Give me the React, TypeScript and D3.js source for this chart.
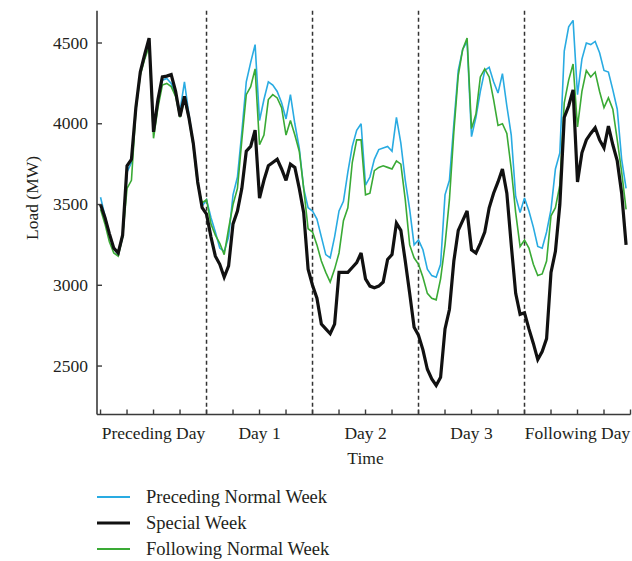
import React from "react";
import * as d3 from "d3";

const dayLabels = ["Preceding Day", "Day 1", "Day 2", "Day 3", "Following Day"];
const yTicks = [2500, 3000, 3500, 4000, 4500];
const seriesNames = ["Preceding Normal Week", "Special Week", "Following Normal Week"];

// hourly load (MW), 24 values per day, 5 days
const precedingWeek = [
  3545, 3430, 3320, 3230, 3190, 3300, 3700, 3760, 4100, 4320, 4410, 4500, 3960, 4150, 4270, 4280, 4250, 4180, 4080, 4260, 4060, 3880, 3640, 3490,
  3530, 3420, 3330, 3230, 3210, 3300, 3560, 3670, 3950, 4260, 4380, 4490, 4020, 4150, 4260, 4240, 4200, 4130, 4030, 4180, 4000, 3850, 3600, 3480,
  3460, 3410, 3300, 3190, 3170, 3300, 3460, 3520, 3700, 3860, 3960, 4000, 3620, 3670, 3780, 3840, 3850, 3860, 3830, 4040, 3880, 3650, 3470, 3250,
  3280, 3220, 3100, 3060, 3050, 3130, 3560, 3650, 4000, 4330, 4460, 4510, 3920, 4040, 4200, 4330, 4350, 4260, 4190, 4310, 4110, 3930, 3550, 3450,
  3540, 3460, 3360, 3240, 3230, 3330, 3470, 3720, 3820, 4450, 4600, 4640, 4180, 4400, 4500, 4490, 4510, 4440, 4330, 4320, 4210, 4090, 3780, 3600,
];
const specialWeek = [
  3500, 3420, 3320, 3230, 3200, 3310, 3740, 3780, 4100, 4320, 4430, 4530, 3950, 4150, 4290, 4295, 4305, 4200, 4045, 4170, 4040, 3880, 3640, 3480,
  3440, 3300, 3180, 3130, 3050, 3120, 3380, 3460, 3600, 3830, 3860, 3960, 3540, 3650, 3740, 3760, 3780, 3720, 3650, 3750, 3730, 3600, 3450, 3100,
  3000, 2920, 2760, 2730, 2700, 2760, 3080, 3080, 3080, 3110, 3140, 3200, 3040, 2995, 2985, 2995, 3020, 3160, 3190, 3385, 3340, 3150, 2950, 2740,
  2690, 2600, 2480, 2420, 2380, 2430, 2730, 2850, 3150, 3340, 3400, 3460, 3220, 3200, 3260, 3330, 3480, 3570, 3640, 3720, 3570, 3250, 2950, 2820,
  2830, 2730, 2640, 2540, 2590, 2670, 3080, 3210, 3500, 4040, 4110, 4210, 3640, 3820, 3900, 3940, 3975, 3900, 3850, 3985, 3870, 3770, 3570, 3250,
];
const followingWeek = [
  3470, 3380, 3270, 3200, 3180, 3300, 3600, 3650, 4080, 4300, 4400, 4480, 3910, 4100, 4240, 4250, 4230, 4170, 4040, 4150, 4030, 3860, 3620, 3510,
  3530, 3380, 3310, 3260, 3190, 3350, 3500, 3600, 3900, 4180, 4230, 4340, 3870, 3930, 4150, 4180, 4160, 4100, 3930, 4020, 3930, 3830, 3600, 3350,
  3330, 3250, 3150, 3080, 3020, 3100, 3200, 3400, 3480, 3760, 3900, 3900, 3560, 3570, 3710, 3730, 3740, 3730, 3720, 3770, 3750, 3530, 3250, 3170,
  3130, 3050, 2950, 2920, 2910, 3040, 3250, 3530, 3950, 4300, 4460, 4530, 3970, 4060, 4290, 4340, 4290, 4150, 3990, 4000, 3940, 3720, 3450, 3240,
  3280, 3230, 3130, 3060, 3070, 3150, 3430, 3480, 3620, 4130, 4270, 4370, 3980, 4200, 4330, 4290, 4320, 4200, 4100, 4160, 4090, 3900, 3700, 3470,
];

const colors = ["#29abe2", "#111111", "#3aaa35"];
const widths = [1.6, 3.2, 1.6];
const FONT = "'Liberation Serif', 'Times New Roman', serif";
const TEXT = "#231f20";
const AXIS = "#3a3a3a";

export default function App() {
  const W = 632, H = 561;
  const x = d3.scaleLinear().domain([-0.8, 120]).range([97, 630.5]);
  const y = d3.scaleLinear().domain([2200, 4700]).range([414.5, 10.7]);
  const line = d3.line<number>().x((_, i) => x(i)).y((d) => y(d));
  const series = [precedingWeek, followingWeek, specialWeek];
  const seriesColor = [colors[0], colors[2], colors[1]];
  const seriesWidth = [widths[0], widths[2], widths[1]];
  const xTicks = d3.range(0, 121, 6);
  const bounds = [24, 48, 72, 96];
  const x0 = x.range()[0], x1 = x.range()[1];
  const yb = y.range()[0], yt = y.range()[1];

  return (
    <svg width={W} height={H} style={{ position: "absolute", left: 0, top: 0, background: "#fff" }} fontFamily={FONT}>
      {bounds.map((b) => (
        <line key={b} x1={x(b)} x2={x(b)} y1={yt} y2={yb} stroke="#333" strokeWidth={1.5} strokeDasharray="4,3" />
      ))}
      {series.map((s, k) => (
        <path key={k} d={line(s) || ""} fill="none" stroke={seriesColor[k]} strokeWidth={seriesWidth[k]} strokeLinejoin="miter" strokeMiterlimit={3} />
      ))}
      {/* axes */}
      <line x1={x0} x2={x0} y1={yt} y2={yb} stroke={AXIS} strokeWidth={1.6} />
      <line x1={x0} x2={x1} y1={yb} y2={yb} stroke={AXIS} strokeWidth={1.6} />
      {yTicks.map((t) => (
        <g key={t}>
          <line x1={x0} x2={x0 + 5} y1={y(t)} y2={y(t)} stroke={AXIS} strokeWidth={1.4} />
          <text x={88} y={y(t) + 5.5} textAnchor="end" fontSize={17.5} fill={TEXT}>{t}</text>
        </g>
      ))}
      {xTicks.map((t) => (
        <line key={t} x1={x(t)} x2={x(t)} y1={yb} y2={yb - 5} stroke={AXIS} strokeWidth={1.4} />
      ))}
      {dayLabels.map((l, i) => (
        <text key={l} x={x(i * 24 + 12)} y={439} textAnchor="middle" fontSize={17.5} fill={TEXT}>{l}</text>
      ))}
      <text x={x(60)} y={464} textAnchor="middle" fontSize={17.5} fill={TEXT}>Time</text>
      <text transform={`translate(38,198) rotate(-90)`} textAnchor="middle" fontSize={17.5} fill={TEXT}>Load (MW)</text>
      {seriesNames.map((n, i) => (
        <g key={n}>
          <line x1={97} x2={130} y1={497 + i * 26} y2={497 + i * 26} stroke={colors[i]} strokeWidth={i === 1 ? 3 : 2} />
          <text x={146} y={503 + i * 26} fontSize={18.5} fill={TEXT}>{n}</text>
        </g>
      ))}
    </svg>
  );
}
